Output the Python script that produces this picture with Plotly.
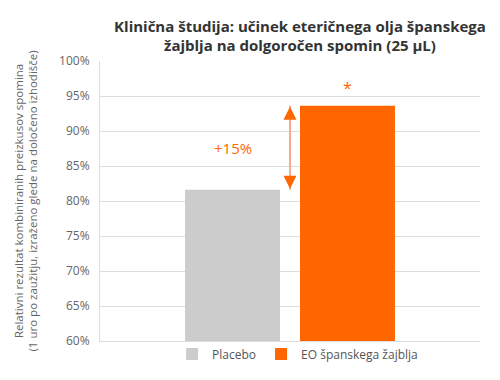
import plotly.graph_objects as go

categories = ["Dolgoročen spomin"]
series_names = ["Placebo", "EO španskega žajblja"]
placebo_values = [81.6]
eo_values = [93.6]
series_colors = ["#cccccc", "#ff6600"]
tick_vals = [60, 65, 70, 75, 80, 85, 90, 95, 100]
tick_text = [f"{v}%" for v in tick_vals]
diff_label = "+15%"
sig_label = "*"
y_title = "Relativni rezultat kombiniranih preizkusov spomina<br>(1 uro po zaužitju, izraženo glede na določeno izhodišče)"
chart_title = "<b>Klinična študija: učinek eteričnega olja španskega<br>žajblja na dolgoročen spomin (25 µL)</b>"

orange = series_colors[1]
light_orange = "#f7ae86"

fig = go.Figure()
fig.add_trace(go.Bar(x=[0], y=placebo_values, name=series_names[0],
                     marker=dict(color=series_colors[0], line=dict(width=0))))
fig.add_trace(go.Bar(x=[0], y=eo_values, name=series_names[1],
                     marker=dict(color=series_colors[1], line=dict(width=0))))

# arrow shaft
fig.add_shape(type="line", xref="x", yref="y", x0=0, x1=0,
              y0=placebo_values[0], y1=eo_values[0],
              line=dict(color=light_orange, width=2))
# arrow heads
fig.add_annotation(x=0, y=eo_values[0], ax=0, ay=9, xref="x", yref="y",
                   text="", showarrow=True, arrowhead=2, arrowsize=1.3,
                   arrowwidth=2, arrowcolor=orange, standoff=1)
fig.add_annotation(x=0, y=placebo_values[0], ax=0, ay=-9, xref="x", yref="y",
                   text="", showarrow=True, arrowhead=2, arrowsize=1.3,
                   arrowwidth=2, arrowcolor=orange, standoff=1)

fig.add_annotation(x=-0.15, y=(placebo_values[0] + eo_values[0]) / 2,
                   xref="x", yref="y", text=diff_label, showarrow=False,
                   font=dict(color=orange, size=15, family="Open Sans"))
fig.add_annotation(x=0.151, y=eo_values[0] + 2.6, xref="x", yref="y",
                   text=sig_label, showarrow=False,
                   font=dict(color=orange, size=16, family="Open Sans"))

# y-axis title as rotated annotation
fig.add_annotation(x=-0.196, y=0.5, xref="paper", yref="paper",
                   xanchor="center", yanchor="middle", textangle=-90,
                   text=y_title, showarrow=False,
                   font=dict(size=11.5, color="#666666", family="Open Sans"))

# the page adds an 8px body margin, so the figure is placed 8px up/left
fig.update_layout(
    width=500, height=380,
    margin=dict(l=92, r=28, t=53, b=47, autoexpand=False),
    paper_bgcolor="white", plot_bgcolor="white",
    font=dict(family="Open Sans", color="#666666", size=12),
    title=dict(text=chart_title,
               x=0.584, xanchor="center", y=0.938, yanchor="top",
               font=dict(size=15, color="#333333", family="Open Sans")),
    barmode="group", bargap=0.395, bargroupgap=0.174,
    showlegend=True,
    legend=dict(orientation="h", x=0.52, xanchor="center", y=-0.046, yanchor="middle",
                font=dict(size=12, color="#555555"), bgcolor="rgba(0,0,0,0)",
                traceorder="normal"),
    xaxis=dict(range=[-0.5, 0.5], showticklabels=False, showgrid=False,
               showline=True, linecolor="#dddddd", linewidth=1, zeroline=False,
               automargin=False),
    yaxis=dict(range=[60, 100], tickvals=tick_vals, ticktext=tick_text,
               showgrid=True, gridcolor="#dddddd", gridwidth=1,
               showline=True, linecolor="#dddddd", linewidth=1,
               ticks="", ticklabelstandoff=7, zeroline=False, automargin=False,
               tickfont=dict(size=12, color="#666666")),
)

fig.write_html("out.html")
